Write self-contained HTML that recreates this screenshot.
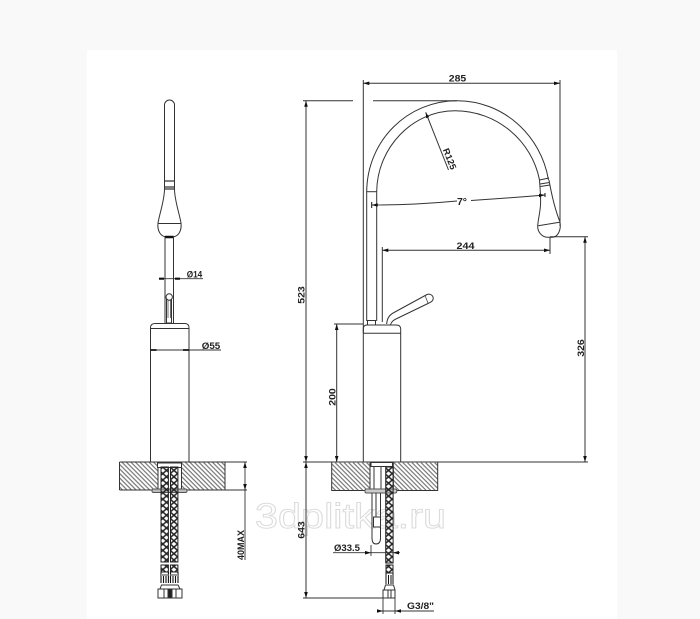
<!DOCTYPE html>
<html><head><meta charset="utf-8"><style>
html,body{margin:0;padding:0;width:700px;height:619px;overflow:hidden;background:#f9f9f9}
svg{display:block}
text{font-family:"Liberation Sans",sans-serif;font-weight:bold;font-size:9px;fill:#222;text-anchor:middle;stroke:none}
#d{filter:blur(.3px)}
</style></head><body>
<svg width="700" height="619" viewBox="0 0 700 619" xmlns="http://www.w3.org/2000/svg">
<defs>
<pattern id="h" width="3.2" height="3.2" patternUnits="userSpaceOnUse" patternTransform="rotate(45)"><rect width="3.2" height="1.2" fill="#777"/></pattern>
<pattern id="b" width="7.4" height="6.4" patternUnits="userSpaceOnUse"><path d="M0 0L3.7 3.2L0 6.4M7.4 0L3.700 3.200L7.400 6.400" fill="none" stroke="#222" stroke-width="1.500"/></pattern>
</defs>
<rect x="87" y="50" width="530" height="569" fill="#fff"/>

<!-- watermark -->
<text x="255" y="528" textLength="191" lengthAdjust="spacingAndGlyphs" style="font-size:35px;font-weight:normal;text-anchor:start;fill:#fff;stroke:#dcdcdc;stroke-width:1">3dplitka.ru</text>

<g id="d" fill="none" stroke="#333" stroke-width="1">
<!-- LEFT VIEW -->
<path d="M164.500 189V105a5 5 0 0 1 10 0V189"/>
<path d="M164.500 181H174.500M164.500 187H174.500M164.500 189H174.500" stroke-width="1.200"/>
<path d="M164.500 189C164.500 200 160 212 158 223C157 231 161 236.700 166 236.700H173C178 236.700 182 231 181 223C179 212 174.500 200 174.500 189"/>
<path d="M158 223.500H181"/>
<path d="M165 237H173.500" stroke-width="2.500" stroke="#111"/>
<path d="M165 237V323M173.500 237V323"/>
<path d="M166.500 296V323H171.500V296"/>
<circle cx="169.200" cy="297" r="3.200" fill="#fff"/>
<path d="M168 300V318M170.500 300V318" stroke-width=".7"/>
<path d="M150.500 335V328Q150.500 323.500 155 323.500H185Q189 323.500 189 328V335M150.500 328.500H189"/>
<path d="M150.500 333V462M189 333V462"/>
<!-- dims left -->
<path d="M159 278.700H203" stroke-width=".9"/>
<path d="M159 278.700h5M180 278.700h-5" stroke="#111" stroke-width="2.200"/>
<path d="M150.500 350H221" stroke-width=".9"/>
<path d="M150.500 350h6M189 350h-6" stroke="#111" stroke-width="1.800"/>
<text x="194.500" y="277.500" textLength="15.500" lengthAdjust="spacingAndGlyphs">Ø14</text>
<text x="211" y="349" textLength="18.500" lengthAdjust="spacingAndGlyphs">Ø55</text>

<!-- counter left -->
<rect x="119.500" y="462" width="38.500" height="28" fill="url(#h)" stroke="none"/>
<rect x="181.500" y="462" width="43.500" height="28" fill="url(#h)" stroke="none"/>
<path d="M119.500 462H247M119.500 490H158M181.500 490H247M119.500 462V490M225 462V490M158 462V490M181.500 462V490"/>
<rect x="157.500" y="463" width="24" height="4.500" fill="#fff"/>
<rect x="152" y="489" width="35" height="3.500" rx="1.500" fill="#bbb" stroke="#555"/>
<rect x="161" y="467" width="7.400" height="95" fill="url(#b)" stroke="#222"/>
<rect x="170.500" y="467" width="7.400" height="95" fill="url(#b)" stroke="#222"/>
<rect x="161" y="565" width="7.400" height="7" fill="url(#b)" stroke="#222"/>
<rect x="170.500" y="565" width="7.400" height="7" fill="url(#b)" stroke="#222"/>
<path d="M161 572V583M163.500 576V583M166 576V583M168.400 572V583M170.500 572V583M173 576V583M175.500 576V583M178 572V583" stroke="#111" stroke-width="1.100"/>
<path d="M161 575H168.400M170.500 575H178" stroke="#999" stroke-width="2"/>
<path d="M160 589L161.500 585H178L180 589"/>
<rect x="158" y="589" width="24" height="9"/>
<path d="M164 589V598M176 589V598"/>
<rect x="168" y="589" width="4" height="9" fill="#222"/>
<!-- 40max -->
<path d="M245 462V560" stroke-width=".9"/>
<path d="M245 462l-1.800 6h3.600zM245 490l-1.800-6h3.600z" fill="#111" stroke="none"/>
<text transform="translate(244 545) rotate(-90)" textLength="30" lengthAdjust="spacingAndGlyphs">40MAX</text>

<!-- RIGHT VIEW -->
<path d="M366.700 192C367 140 408 100.700 457 100.700C503 100.700 541 135 548.500 180"/>
<path d="M376.700 192C377 147 413 110.700 455 110.700C497 110.700 532 141 539.500 180"/>
<path d="M366.700 191.700H376.700"/>
<path d="M539.500 180L549 178M540 184L549.500 182.500M540.300 186.500L550 185"/>
<path d="M539.500 180C540 188 541 197 540.500 205C540 213 538 220 537.700 226C537.500 232 542 237.300 548 237.300H552C558 237.300 561.300 230 560 222C556 212 552.500 200 549 180"/>
<path d="M538.300 225.800L559.500 222.300"/>
<path d="M366.700 192V321M376.700 192V321"/>
<rect x="367.500" y="320.500" width="8" height="4.500"/>
<path d="M363.300 333V462M400.700 333V462"/>
<path d="M363.300 333V329Q363.300 325 367 325H396Q400.700 325 400.700 329V333M363.300 333.300H400.700"/>
<path d="M386.700 324C387 318 390 314.500 394 312.500L427 294.500C431 293 434 296.500 433 299.500C432.500 301.500 431 302 429 303L397 318.500C393 320 391.500 322 390.500 324.500" fill="#fff"/>
<path d="M425 295.500L428 303" stroke-width=".7"/>

<!-- dims right -->
<path d="M363.300 80V333M560 80V226"/>
<path d="M363.300 83.300H560"/>
<path d="M363.300 83.300l6-1.800v3.600zM560 83.300l-6-1.800v3.600z" fill="#111" stroke="none"/>
<text x="457.500" y="81.500" textLength="17.500" lengthAdjust="spacingAndGlyphs">285</text>
<path d="M303 100.700H353M373 100.700H457"/>
<path d="M306 100.700V598"/>
<path d="M306 100.700l-1.800 6h3.600zM306 462l-1.800-6h3.600zM306 462l-1.800 6h3.600zM306 598l-1.800-6h3.600z" fill="#111" stroke="none"/>
<text transform="translate(304.500 295) rotate(-90)" textLength="17.500" lengthAdjust="spacingAndGlyphs">523</text>
<text transform="translate(304.500 530) rotate(-90)" textLength="17.500" lengthAdjust="spacingAndGlyphs">643</text>
<path d="M303 462H588"/>
<path d="M303 598H383"/>
<!-- R125 -->
<path d="M425.700 112.300L448.500 170"/>
<path d="M425.700 112.300l.5 6 3-1.300z" fill="#111" stroke="none"/>
<text transform="translate(446.800 160) rotate(68.500)" textLength="22" lengthAdjust="spacingAndGlyphs">R125</text>
<!-- 7 deg -->
<path d="M371.700 205Q415 205 457 201M471 200.500Q510 198 545 195"/>
<path d="M371.700 205l6-1.700v3.400zM545 195l-6-1.200v3.400z" fill="#111" stroke="none"/>
<path d="M371.700 202V208M545 193V197" stroke="#111"/>
<text x="462" y="205" style="font-size:10.500px">7°</text>
<!-- 244 -->
<path d="M382.300 247V322M550 237V254M382.300 250.300H550"/>
<path d="M382.300 250.300l6-1.800v3.600zM550 250.300l-6-1.800v3.600z" fill="#111" stroke="none"/>
<text x="465.500" y="249" textLength="18" lengthAdjust="spacingAndGlyphs">244</text>
<!-- 326 -->
<path d="M550 236.700H588M585 236.700V462"/>
<path d="M585 236.700l-1.800 6h3.600zM585 462l-1.800-6h3.600z" fill="#111" stroke="none"/>
<text transform="translate(584 348) rotate(-90)" textLength="17.500" lengthAdjust="spacingAndGlyphs">326</text>
<!-- 200 -->
<path d="M334 324H363.300M336.700 324V462"/>
<path d="M336.700 324l-1.800 6h3.600zM336.700 462l-1.800-6h3.600z" fill="#111" stroke="none"/>
<text transform="translate(335.500 397) rotate(-90)" textLength="17.500" lengthAdjust="spacingAndGlyphs">200</text>

<!-- counter right -->
<rect x="331.700" y="462" width="38.300" height="28.500" fill="url(#h)" stroke="none"/>
<rect x="393.300" y="462" width="44.400" height="28.500" fill="url(#h)" stroke="none"/>
<path d="M331.700 462V490.500H370V462M393.300 462V490.500H437.700V462"/>
<rect x="371" y="462.500" width="21.500" height="4" fill="#fff"/>
<path d="M374 467V489M381 467V489"/>
<rect x="365" y="489" width="31.700" height="4" rx="1.500" fill="#ccc" stroke="#555"/>
<rect x="385.700" y="467" width="7.400" height="96" fill="url(#b)" stroke="#222"/>
<rect x="386" y="565" width="7" height="8" fill="url(#b)" stroke="#222"/>
<path d="M386 573V584M388.500 575V584M391 575V584M393 573V584" stroke="#111"/>
<path d="M372 493V538Q372 544 376 544Q380.500 544 380.500 538V493"/>
<path d="M376 493V517"/>
<rect x="373.500" y="517" width="7" height="10" fill="#fff"/>
<path d="M384 590L385.500 585H393.500L395 590"/>
<rect x="383" y="590" width="12" height="8"/>
<path d="M388 590V598M391 590V598"/>
<!-- 33.5 -->
<path d="M333 552.700H400M371 545V556M393 545V556" stroke-width=".9"/>
<path d="M371 552.700l-6-1.800v3.600zM393 552.700l6-1.800v3.600z" fill="#111" stroke="none"/>
<text x="347" y="551" textLength="26" lengthAdjust="spacingAndGlyphs">Ø33.5</text>
<!-- G3/8 -->
<path d="M383 598V614M395 598V614M377 611H434" stroke-width=".9"/>
<path d="M383 611l-6-1.800v3.600zM395 611l6-1.800v3.600z" fill="#111" stroke="none"/>
<text x="420.500" y="609" textLength="27" lengthAdjust="spacingAndGlyphs">G3/8"</text>
</g>
</svg>
</body></html>
